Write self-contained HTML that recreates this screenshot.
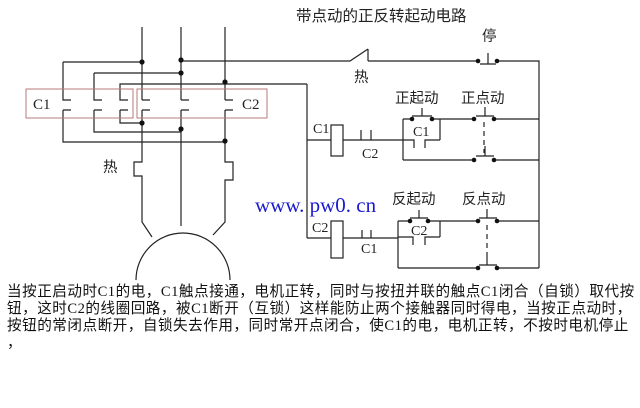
<!DOCTYPE html>
<html><head><meta charset="utf-8"><style>
html,body{margin:0;padding:0;background:#fff;width:640px;height:408px;overflow:hidden}
svg{position:absolute;left:0;top:0}
.t{font-family:"Liberation Serif","Noto Serif CJK SC",serif;fill:#222}
.z{font-family:"Liberation Sans","Noto Sans CJK SC",sans-serif;fill:#222}
#txt{position:absolute;left:7px;top:284px;width:630px;font-family:"Liberation Serif","Noto Sans CJK SC",serif;font-size:14.6px;line-height:17px;letter-spacing:0.5px;color:#111;white-space:nowrap}
</style></head><body>
<svg width="640" height="408" viewBox="0 0 640 408">
<g stroke="#222" stroke-width="1.2" fill="none">
<path d="M142 27V100M142 110V162H134V176H142V222L152 237"/>
<path d="M181 27V100M181 110V226"/>
<path d="M225 27V100M225 110V162H233V180H225V222L213 235"/>
<path d="M142 100h8M142 110h8M181 100h8M181 110h8M225 100h8M225 110h8"/>
<path d="M63 62H142M63 62V100h8M63 110h8M63 110V142H225"/>
<path d="M94 73H181M94 73V100h8M94 110h8M94 110V132H181"/>
<path d="M307 84H120V100h8M120 110h8M120 110V123H142"/>
<path d="M181 61H350L368 49M368 49V61M368 61H478M497 61H539V268"/>
<path d="M307 84V238"/>
<path d="M136 280A47 47 0 0 1 230 280"/>
<path d="M307 140H331M343 140H403M361 130V140M371 130V140"/>
<rect x="331" y="125" width="12" height="31"/>
<path d="M403 119V160M403 119H412M432 119H474M494 119H539M440 119V140M403 140H414V148M425 148V140H440"/>
<path d="M412 116H432M422 116V108"/>
<path d="M476 116H494M485 116V107"/>
<path d="M484 122V153" stroke-dasharray="5,4"/>
<path d="M476 156H494M485 156V146M403 160H474M494 160H539"/>
<path d="M307 238H331M343 238H398M362 230V238M371 230V238"/>
<rect x="331" y="221" width="12" height="37"/>
<path d="M398 221V268M398 221H410M428 221H478M497 221H539M440 221V237M398 237H413V245M425 245V237H440"/>
<path d="M410 218H428M419 218V210"/>
<path d="M479 218H497M487 218V209"/>
<path d="M487 225V256" stroke-dasharray="5,4"/>
<path d="M479 265H497M487 265V256M398 268H478M497 268H539"/>
<path d="M480 64H496M488 64V53"/>
</g>
<g stroke="#b87878" stroke-width="1" fill="none">
<rect x="26" y="89" width="107" height="29"/><rect x="137" y="89" width="130" height="29"/>
</g>
<g fill="#111">
<circle cx="142" cy="62" r="2.6"/><circle cx="181" cy="60" r="2.6"/><circle cx="181" cy="73" r="2.6"/><circle cx="225" cy="82" r="2.6"/>
<circle cx="142" cy="123" r="2.6"/><circle cx="181" cy="129" r="2.6"/><circle cx="225" cy="141" r="2.6"/>
<circle cx="478" cy="61" r="2.3"/><circle cx="497" cy="61" r="2.3"/>
<circle cx="412" cy="119" r="2.3"/><circle cx="432" cy="119" r="2.3"/>
<circle cx="474" cy="119" r="2.3"/><circle cx="494" cy="119" r="2.3"/>
<circle cx="474" cy="160" r="2.3"/><circle cx="494" cy="160" r="2.3"/>
<circle cx="410" cy="221" r="2.3"/><circle cx="428" cy="221" r="2.3"/>
<circle cx="478" cy="221" r="2.3"/><circle cx="497" cy="221" r="2.3"/>
<circle cx="478" cy="268" r="2.3"/><circle cx="497" cy="268" r="2.3"/>
</g>
<g class="t" font-size="15">
<text x="33" y="109">C1</text><text x="242" y="109">C2</text>
<text x="313" y="133" font-size="14">C1</text><text x="362" y="158" font-size="14">C2</text>
<text x="413" y="136" font-size="14">C1</text>
<text x="312" y="232" font-size="14">C2</text><text x="361" y="253" font-size="14">C1</text>
<text x="411" y="235" font-size="14">C2</text>
</g>
<g class="z" font-size="14.5">
<text x="296" y="21" font-size="15.5">带点动的正反转起动电路</text>
<text x="482" y="41">停</text>
<text x="354" y="82">热</text>
<text x="103" y="172">热</text>
<text x="395" y="103">正起动</text><text x="461" y="103">正点动</text>
<text x="392" y="204">反起动</text><text x="462" y="204">反点动</text>
</g>
<text x="255" y="212" font-family="Liberation Serif,serif" font-size="21" fill="#1a1ad0">www. pw0. cn</text>
</svg>
<div id="txt">当按正启动时C1的电，C1触点接通，电机正转，同时与按扭并联的触点C1闭合（自锁）取代按<br>钮，这时C2的线圈回路，被C1断开（互锁）这样能防止两个接触器同时得电，当按正点动时，<br>按钮的常闭点断开，自锁失去作用，同时常开点闭合，使C1的电，电机正转，不按时电机停止<br>，</div>
</body></html>
